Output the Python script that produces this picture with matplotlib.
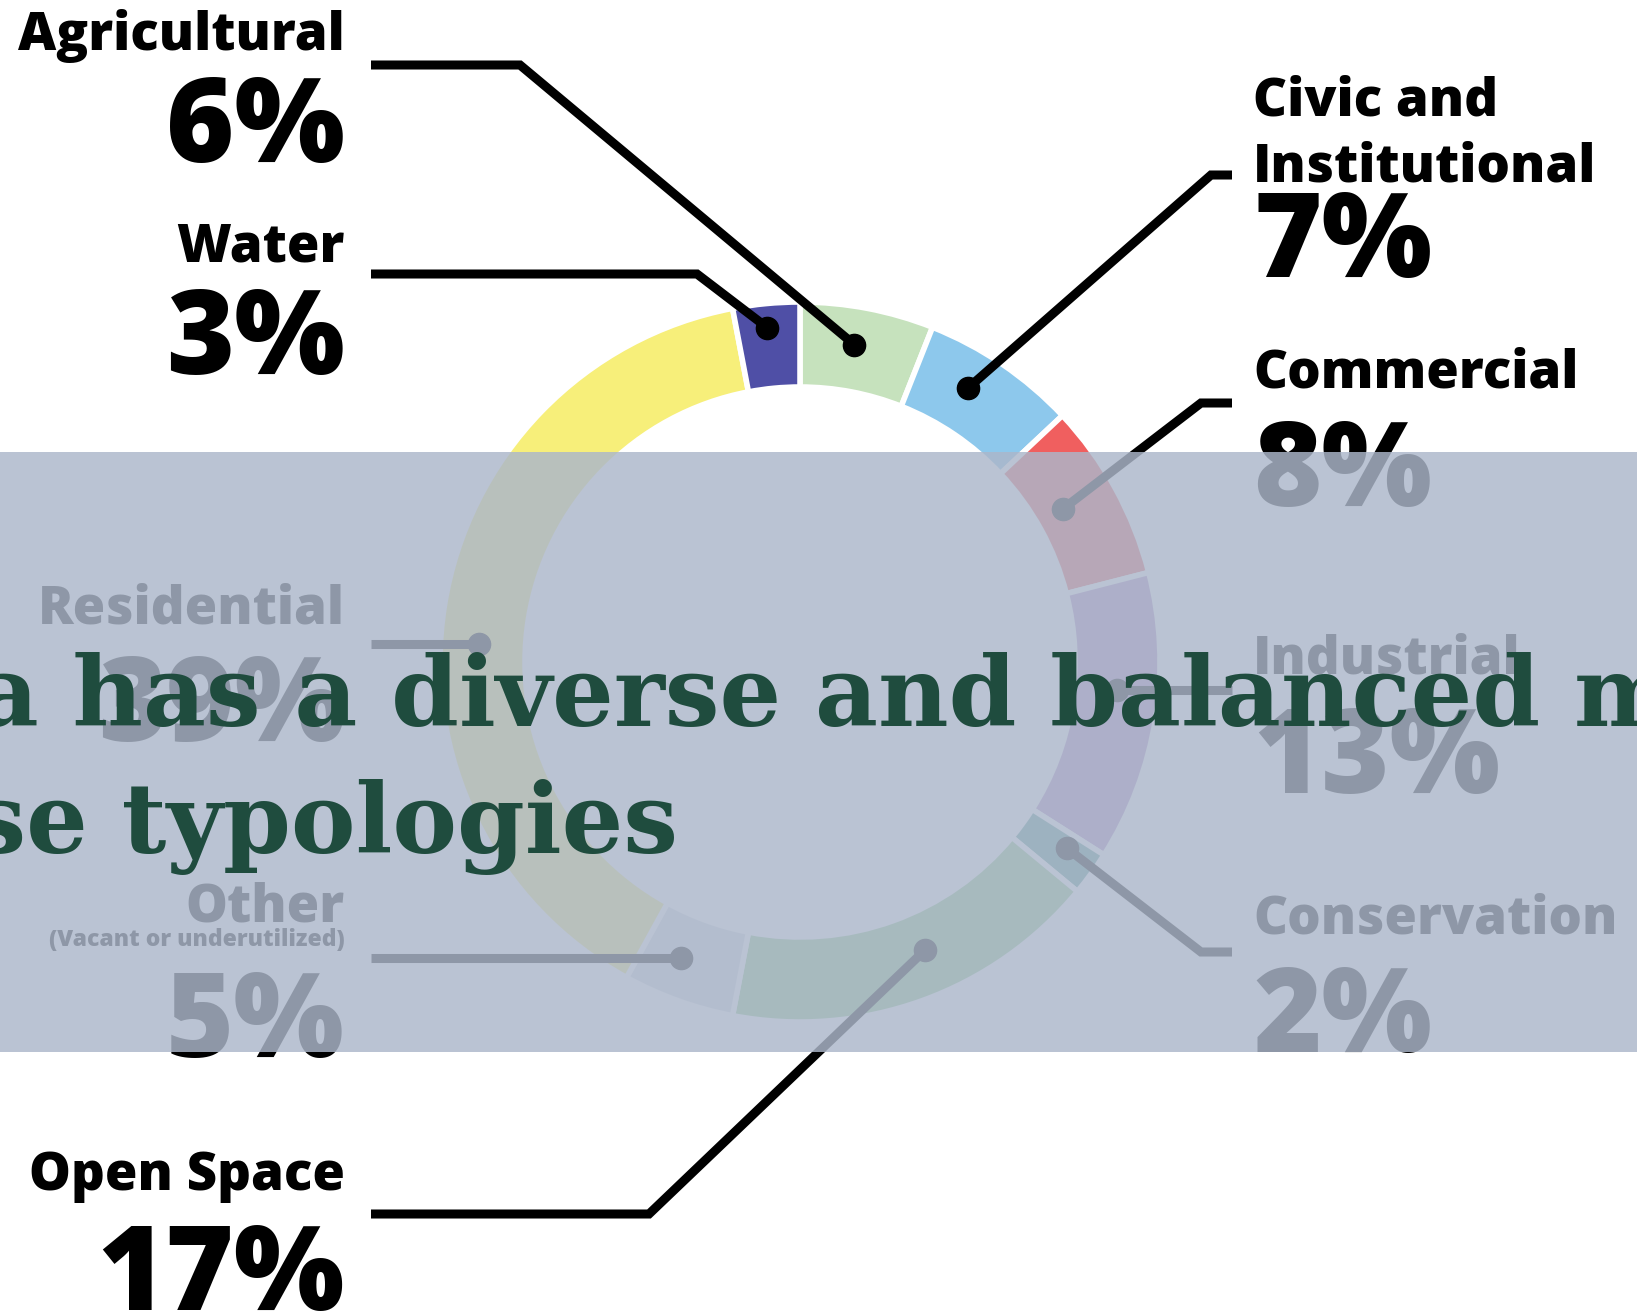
import matplotlib
matplotlib.use("Agg")
import numpy as np
import matplotlib.pyplot as plt
from matplotlib.patches import Rectangle
from matplotlib.font_manager import FontProperties

W, H = 1637, 1313

# land use shares, clockwise from 12 o'clock
categories = ["Agricultural", "Civic and\nInstitutional", "Commercial", "Industrial",
              "Conservation", "Open Space", "Other", "Residential", "Water"]
shares = [6, 7, 8, 13, 2, 17, 5, 39, 3]
sublabels = {"Other": "(Vacant or underutilized)"}
colors = ["#c6e2bd", "#8dc8ec", "#f05f5f", "#b48ac8", "#5a9e94",
          "#8fcc88", "#d9dde6", "#f7ef7a", "#4f4fa6"]
title_lines = ["area has a diverse and balanced mix of", "land use typologies"]

# label layout, pixels from the top edge
side = ["L", "R", "R", "R", "R", "L", "L", "L", "L"]
name_y = [50, 182, 388, 673, 934, 1190, 921, 623, 261]
pct_y = [162, 277, 506, 793, 1052, 1310, 1057, 741, 374]
line_y = [65, 175, 403, 690, 952, 1214, 958, 644, 274]
elbow_x = [520, 1211, 1201, None, 1201, 649, None, None, 697]
dot_ang = [9.7, 31.5, 59.8, 95, 124.9, 156.5, 201.9, 273.2, 354.4]
dot_r = [322, 321, 304, 318, 325, 314, 319, 322, 336]

cx, cy = 800, H - 662
R_out, ring_w = 360, 85

fig = plt.figure(figsize=(W / 100, H / 100), dpi=100)
ax = fig.add_axes([0, 0, 1, 1])
ax.pie(shares, colors=colors, startangle=90, counterclock=False,
       center=(cx, cy), radius=R_out, frame=True,
       wedgeprops=dict(width=ring_w, edgecolor="white", linewidth=4))
ax.set_xlim(0, W)
ax.set_ylim(0, H)
ax.set_aspect("auto")
ax.axis("off")

name_font = FontProperties(family="Open Sans", weight=800, size=38)
pct_font = FontProperties(family="Open Sans", weight=800, size=84)
sub_font = FontProperties(family="Open Sans", weight=800, size=16.5)

for i, cat in enumerate(categories):
    left = side[i] == "L"
    ly = H - line_y[i]
    if elbow_x[i] is None:
        # dot where the horizontal line meets the ring
        r = dot_r[i]
        off = np.sqrt(max(r ** 2 - (ly - cy) ** 2, 0))
        dx, dy = (cx - off if left else cx + off), ly
        xs = [371 if left else 1232, dx]
        ys = [ly, dy]
    else:
        a = np.deg2rad(dot_ang[i])
        dx, dy = cx + dot_r[i] * np.sin(a), cy + dot_r[i] * np.cos(a)
        xs = [371 if left else 1232, elbow_x[i], dx]
        ys = [ly, ly, dy]
    ax.plot(xs, ys, color="black", lw=6.5, solid_joinstyle="miter",
            solid_capstyle="butt", zorder=3)
    ax.plot(dx, dy, "o", color="black", ms=16, zorder=3)

    tx = 345 if left else 1253
    ha = "right" if left else "left"
    lines = cat.split("\n")
    for k, ln in enumerate(reversed(lines)):
        ax.text(tx, H - name_y[i] + k * 67, ln, ha=ha, va="baseline",
                fontproperties=name_font, color="black", zorder=4)
    if cat in sublabels:
        ax.text(tx, H - 946, sublabels[cat], ha=ha, va="baseline",
                fontproperties=sub_font, color="black", zorder=4)
    ax.text(tx, H - pct_y[i], f"{shares[i]}%", ha=ha, va="baseline",
            fontproperties=pct_font, color="black", zorder=4)

# translucent banner over the chart
ax.add_patch(Rectangle((0, H - 1052), W, 600, facecolor=(172 / 255, 183 / 255, 202 / 255),
                       alpha=0.83, lw=0, zorder=5))

# heading, sized so that its words land where they do in the banner
renderer = fig.canvas.get_renderer()
probe = FontProperties(family="DejaVu Serif", weight="bold", size=100)


def tw(s):
    return renderer.get_text_width_height_descent(s, probe, ismath=False)[0]


span = tw("has a diverse and balanced m") - tw("m")
fs = 100 * 1430 / span * 1.05
title_font = probe.copy()
title_font.set_size(fs)
k = fs / 100
x1 = 73 - (tw("area h") - tw("h")) * k
x2 = 122 - (tw("land use t") - tw("t")) * k
ax.text(x1, H - 726, title_lines[0], ha="left", va="baseline",
        fontproperties=title_font, color="#1f4c3e", zorder=6)
ax.text(x2, H - 853, title_lines[1], ha="left", va="baseline",
        fontproperties=title_font, color="#1f4c3e", zorder=6)

fig.savefig("out.png", dpi=100)
